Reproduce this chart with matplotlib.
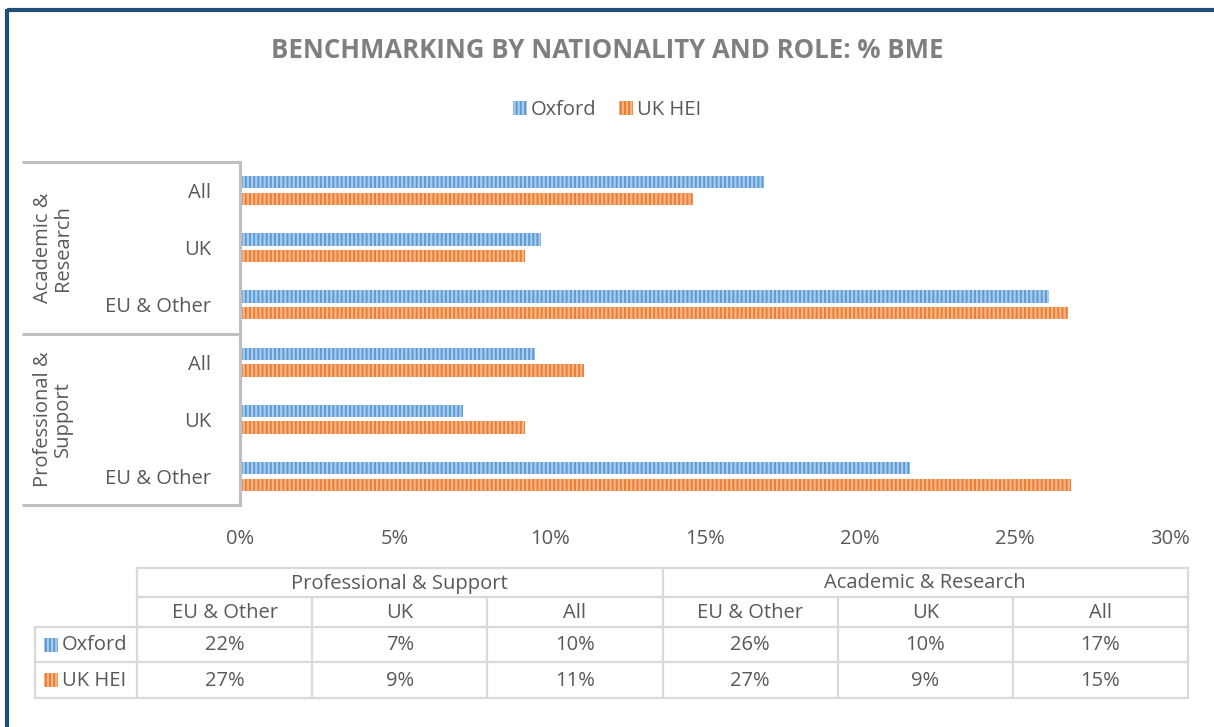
import matplotlib
matplotlib.use("Agg")
import matplotlib.pyplot as plt
from matplotlib.patches import Rectangle

plt.rcParams['font.family'] = ['Open Sans', 'DejaVu Sans']
plt.rcParams['hatch.linewidth'] = 1.6

# ---------------- data ----------------
title = "BENCHMARKING BY NATIONALITY AND ROLE: % BME"
series_names = ["Oxford", "UK HEI"]
groups = ["Academic &\nResearch", "Professional &\nSupport"]
group_table_names = ["Professional & Support", "Academic & Research"]
categories = ["All", "UK", "EU & Other"]
# top-to-bottom order: AR All, AR UK, AR EU, PS All, PS UK, PS EU
oxford = [16.9, 9.7, 26.1, 9.5, 7.2, 21.6]
uk_hei = [14.6, 9.2, 26.7, 11.1, 9.2, 26.8]
xticks = [0, 5, 10, 15, 20, 25, 30]

blue, blue_l = "#5B9BD5", "#A9CCEC"
orange, orange_l = "#ED7D31", "#F6B68A"
txt = "#595959"
grid_c = "#BFBFBF"
fs = 14.5

W, H = 1214, 727
fig = plt.figure(figsize=(W / 100, H / 100), dpi=100)

# overlay axes in pixel coordinates
ov = fig.add_axes([0, 0, 1, 1])
ov.set_xlim(0, W)
ov.set_ylim(H, 0)
ov.axis("off")
ov.set_zorder(-1)

# frame (top and left, dark blue)
ov.plot([6.5, W], [10, 10], color="#1F4E79", lw=3, solid_capstyle="butt")
ov.plot([6.5, 6.5], [8.5, H], color="#1F4E79", lw=3, solid_capstyle="butt")

fig.text(0.5, 1 - 50 / H, title, ha="center", va="center", fontsize=18.5,
         fontweight="bold", color="#7F7F7F")

# ---------------- main axes ----------------
x0, x1 = 240, 1170
ytop, ybot = 162, 505
ax = fig.add_axes([x0 / W, 1 - ybot / H, (x1 - x0) / W, (ybot - ytop) / H])
n = len(oxford)
pos = list(range(n))
h = 0.215
off = 0.145
b1 = ax.barh([p - off for p in pos], oxford, height=h, color=blue,
             edgecolor=blue_l, linewidth=0, hatch="||||", label=series_names[0])
b2 = ax.barh([p + off for p in pos], uk_hei, height=h, color=orange,
             edgecolor=orange_l, linewidth=0, hatch="||||", label=series_names[1])
ax.set_xlim(0, 30)
ax.set_ylim(n - 0.5, -0.5)
ax.set_xticks(xticks)
ax.set_xticklabels([f"{t}%" for t in xticks], fontsize=fs, color=txt)
ax.set_yticks(pos)
ax.set_yticklabels(categories * 2, fontsize=fs, color=txt)
ax.tick_params(axis="both", length=0)
ax.tick_params(axis="y", pad=21)
ax.tick_params(axis="x", pad=17)
for s in ["top", "right", "bottom"]:
    ax.spines[s].set_visible(False)
ax.spines["left"].set_color(grid_c)
ax.spines["left"].set_linewidth(2.2)

# legend
leg = fig.legend(handles=[b1, b2], labels=series_names, loc="center",
                 bbox_to_anchor=(0.5, 1 - 110 / H), ncol=2, frameon=False,
                 fontsize=fs, handlelength=0.7, handleheight=0.7,
                 handletextpad=0.2, columnspacing=1.1)
for t in leg.get_texts():
    t.set_color(txt)

# group separators and labels (multi-level category axis)
for yy in [162, 333.5, 505]:
    ov.plot([22, 239], [yy, yy], color=grid_c, lw=2.2, solid_capstyle="butt")
for gi, g in enumerate(groups):
    yc = 162 + (gi + 0.5) * (505 - 162) / 2
    ov.text(53, yc, g, rotation=90, ha="center", va="center", fontsize=fs,
            color=txt, linespacing=1.05)

# ---------------- data table ----------------
tl, tr = 137, 1188
cw = (tr - tl) / 6
r = [568, 597, 627, 662, 698]
lc = "#D9D9D9"
lwt = 1.6
ov.plot([tl, tr], [r[0], r[0]], color=lc, lw=lwt)
ov.plot([tl, tr], [r[1], r[1]], color=lc, lw=lwt)
ov.plot([35, tr], [r[2], r[2]], color=lc, lw=lwt)
ov.plot([35, tr], [r[3], r[3]], color=lc, lw=lwt)
ov.plot([35, tr], [r[4], r[4]], color=lc, lw=lwt)
ov.plot([35, 35], [r[2], r[4]], color=lc, lw=lwt)
ov.plot([tl, tl], [r[0], r[4]], color=lc, lw=lwt)
ov.plot([tl + 3 * cw, tl + 3 * cw], [r[0], r[4]], color=lc, lw=lwt)
ov.plot([tr, tr], [r[0], r[4]], color=lc, lw=lwt)
for k in [1, 2, 4, 5]:
    ov.plot([tl + k * cw] * 2, [r[1], r[4]], color=lc, lw=lwt)

# table texts (columns follow the chart's bottom-to-top category order)
order = list(range(n))[::-1]
tcats = [categories[i % 3] for i in order]
for gi, g in enumerate(group_table_names):
    ov.text(tl + (gi * 3 + 1.5) * cw, (r[0] + r[1]) / 2 + 1, g, ha="center",
            va="center", fontsize=fs, color=txt)
for k, c in enumerate(tcats):
    ov.text(tl + (k + 0.5) * cw, (r[1] + r[2]) / 2 + 1, c, ha="center",
            va="center", fontsize=fs, color=txt)
for ri, (vals, nm, col, coll) in enumerate([(oxford, series_names[0], blue, blue_l),
                                            (uk_hei, series_names[1], orange, orange_l)]):
    yc = (r[2 + ri] + r[3 + ri]) / 2
    for k, i in enumerate(order):
        ov.text(tl + (k + 0.5) * cw, yc + 1, f"{round(vals[i] + 0.01)}%", ha="center",
                va="center", fontsize=fs, color=txt)
    ov.add_patch(Rectangle((44, yc - 7), 14, 14, facecolor=col, edgecolor=coll,
                           linewidth=0, hatch="||||"))
    ov.text(62, yc + 1, nm, ha="left", va="center", fontsize=fs, color=txt)

fig.savefig("out.png", dpi=100)
